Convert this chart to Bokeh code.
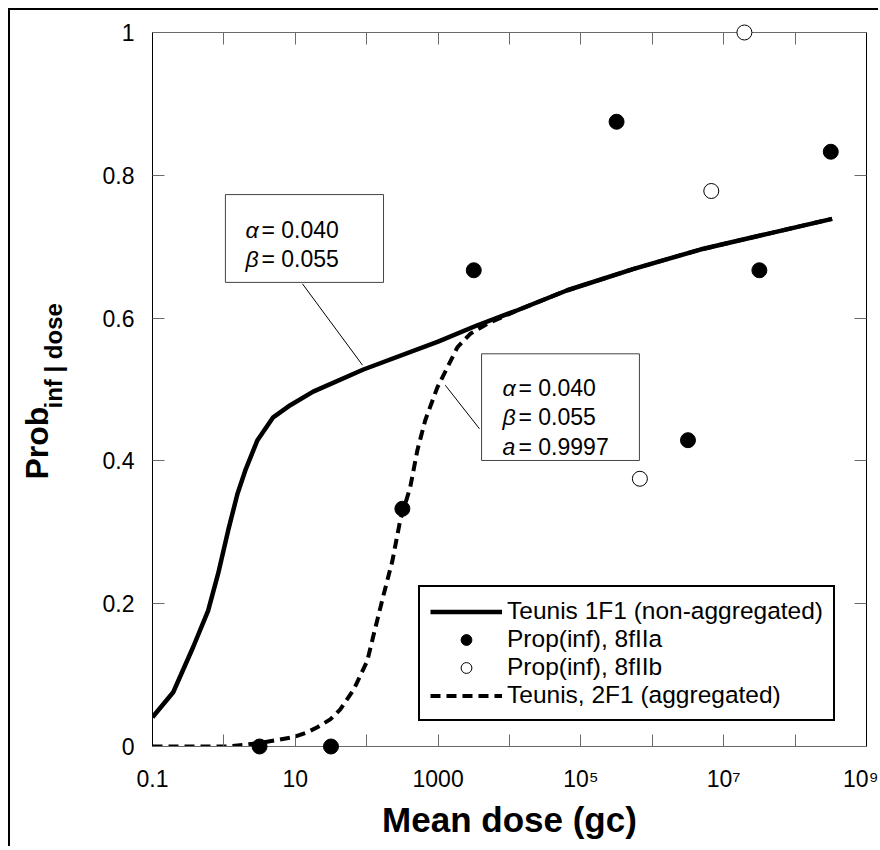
from bokeh.plotting import figure
from bokeh.layouts import row
from bokeh.models import (LogAxis, LinearAxis, FixedTicker, Legend, LegendItem,
                          Label, BoxAnnotation, Range1d)
from bokeh.core.properties import value
from bokeh.embed import file_html
from bokeh.resources import INLINE
import math

FONT = "Liberation Sans"

# ---------------- data ----------------
solid_dose = [0.1, 0.195, 0.37, 0.6, 0.83, 1.15, 1.55, 2.0, 2.95, 4.9, 8.5, 17.8,
              90, 1000, 3550, 12900, 64600, 550000, 4.7e6, 4.1e7, 3.3e8]
solid_prob = [0.041, 0.076, 0.139, 0.19, 0.242, 0.303, 0.354, 0.387, 0.429, 0.461,
              0.478, 0.497, 0.528, 0.567, 0.59, 0.611, 0.639, 0.669, 0.696, 0.718, 0.739]

dashed_dose = [0.1, 1.12, 3.24, 9.3, 14.8, 20.4, 30.9, 42.7, 66, 102, 126, 174, 229,
               295, 407, 513, 661, 977, 1350, 1860, 2820, 4900, 12900, 64600, 550000,
               4.7e6, 4.1e7, 3.3e8]
dashed_prob = [0.0, 0.0, 0.005, 0.013, 0.02, 0.027, 0.038, 0.052, 0.08, 0.12, 0.158,
               0.214, 0.26, 0.317, 0.363, 0.415, 0.457, 0.503, 0.531, 0.559, 0.578,
               0.592, 0.611, 0.639, 0.669, 0.696, 0.718, 0.739]

iia_dose = [3.16, 31.6, 316, 3160, 3.16e5, 3.16e6, 3.16e7, 3.16e8]
iia_prob = [0.0, 0.0, 0.333, 0.667, 0.875, 0.429, 0.667, 0.833]

iib_dose = [6.7e5, 6.7e6, 1.95e7]
iib_prob = [0.375, 0.778, 1.0]

x_ticks = [0.1, 1, 10, 100, 1000, 1e4, 1e5, 1e6, 1e7, 1e8, 1e9]
x_tick_labels = ["0.1", "", "10", "", "1000", "", "10\u2075", "", "10\u2077", "", "10\u2079"]
y_ticks = [0, 0.2, 0.4, 0.6, 0.8, 1]
y_tick_labels = ["0", "0.2", "0.4", "0.6", "0.8", "1"]

legend_labels = ["Teunis 1F1 (non-aggregated)", "Prop(inf), 8fIIa",
                 "Prop(inf), 8fIIb", "Teunis, 2F1 (aggregated)"]

y_title_main = "Prob"
y_title_sub = "inf | dose"

box1_sym = ["\u03b1", "\u03b2"]
box1_val = ["= 0.040", "= 0.055"]
box2_sym = ["\u03b1", "\u03b2", "a"]
box2_val = ["= 0.040", "= 0.055", "= 0.9997"]

# ---------------- layout constants ----------------
TITLE_W = 72          # strip to the left holding the y title
FIG_H = 836
TICK_COL = "#6a6a6a"
TICK_FS = "23px"

# ---------------- main figure ----------------
p = figure(x_axis_type="log", x_range=(0.1, 1e9), y_range=(0, 1),
           frame_width=714, frame_height=714,
           min_border_left=142 - TITLE_W, min_border_right=12,
           min_border_top=22, min_border_bottom=100,
           output_backend="svg", toolbar_location=None,
           background_fill_color="white", border_fill_color="white",
           outline_line_color=None)
p.xgrid.visible = False
p.ygrid.visible = False

xa = p.xaxis[0]
xa.ticker = FixedTicker(ticks=x_ticks)
xa.major_label_overrides = {t: (lab if lab else " ") for t, lab in zip(x_ticks, x_tick_labels)}
xa.minor_tick_line_color = None
xa.major_tick_in = 12
xa.major_tick_out = 0
xa.major_tick_line_color = TICK_COL
xa.axis_line_color = TICK_COL
xa.major_label_standoff = 19
xa.major_label_text_font = FONT
xa.major_label_text_font_size = TICK_FS
xa.major_label_text_color = "black"
xa.axis_label = "Mean dose (gc)"
xa.axis_label_text_font = FONT
xa.axis_label_text_font_size = "35px"
xa.axis_label_text_font_style = "bold"
xa.axis_label_text_color = "black"
xa.axis_label_standoff = 5

ya = p.yaxis[0]
ya.ticker = FixedTicker(ticks=y_ticks)
ya.major_label_overrides = dict(zip(y_ticks, y_tick_labels))
ya.minor_tick_line_color = None
ya.major_tick_in = 12
ya.major_tick_out = 0
ya.major_tick_line_color = TICK_COL
ya.axis_line_color = "black"
ya.major_label_standoff = 18
ya.major_label_text_font = FONT
ya.major_label_text_font_size = TICK_FS
ya.major_label_text_color = "black"

top = LogAxis(ticker=FixedTicker(ticks=x_ticks), major_label_text_font_size="1px",
              major_label_text_alpha=0,
              major_label_standoff=0, major_tick_in=12, major_tick_out=0,
              minor_tick_line_color=None, major_tick_line_color=TICK_COL,
              axis_line_color=TICK_COL)
p.add_layout(top, "above")
right = LinearAxis(ticker=FixedTicker(ticks=y_ticks), major_label_text_font_size="1px",
                   major_label_text_alpha=0,
                   major_label_standoff=0, major_tick_in=12, major_tick_out=0,
                   minor_tick_line_color=None, major_tick_line_color=TICK_COL,
                   axis_line_color="black")
p.add_layout(right, "right")

# ---------------- annotation boxes & leader lines ----------------
p.segment(x0=[12.6, 3800], y0=[0.648, 0.445], x1=[87.5, 1260], y1=[0.534, 0.506],
          line_color="black", line_width=1)

p.add_layout(BoxAnnotation(left=1.05, right=172, top=0.773, bottom=0.650,
                           fill_color="white", fill_alpha=1,
                           line_color="#444444", line_alpha=1, line_width=1))
p.add_layout(BoxAnnotation(left=4060, right=6.6e5, top=0.550, bottom=0.4006,
                           fill_color="white", fill_alpha=1,
                           line_color="#444444", line_alpha=1, line_width=1))

def box_text(x0, ys, syms, vals):
    for y, s, v in zip(ys, syms, vals):
        p.add_layout(Label(x=x0, y=y, text=s, text_font=FONT, text_font_size="23px",
                           text_font_style="italic", text_baseline="alphabetic",
                           text_align="left", text_color="black"))
        p.add_layout(Label(x=x0, y=y, x_offset=16, text=v, text_font=FONT,
                           text_font_size="23px", text_baseline="alphabetic",
                           text_align="left", text_color="black"))

box_text(2.007, [0.7237, 0.683], box1_sym, box1_val)
box_text(7980, [0.5028, 0.4612, 0.4192], box2_sym, box2_val)

# ---------------- data renderers ----------------
r_solid = p.line(solid_dose, solid_prob, line_width=4.5, line_color="black")
r_dash = p.line(dashed_dose, dashed_prob, line_width=4, line_color="black", line_dash="10 6")
r_a = p.scatter(iia_dose, iia_prob, size=15, marker="circle", fill_color="black",
                line_color="black", level="overlay")
r_b = p.scatter(iib_dose, iib_prob, size=15, marker="circle", fill_color="white",
                line_color="black", line_width=1, level="overlay")

legend = Legend(items=[LegendItem(label=legend_labels[0], renderers=[r_solid]),
                       LegendItem(label=legend_labels[1], renderers=[r_a]),
                       LegendItem(label=legend_labels[2], renderers=[r_b]),
                       LegendItem(label=legend_labels[3], renderers=[r_dash])],
                location=(266, 25), glyph_width=72, glyph_height=27, label_height=26,
                spacing=0, padding=10, label_standoff=5, margin=0,
                border_line_color="black", border_line_width=2, border_line_alpha=1,
                label_text_font=FONT, label_text_font_size="24.5px", label_text_color="black",
                background_fill_color="white", background_fill_alpha=1)
p.add_layout(legend)

# ---------------- y title strip (pixel coordinates inside its own frame) ----------------
t = figure(frame_width=TITLE_W, frame_height=FIG_H,
           x_range=Range1d(0, TITLE_W), y_range=Range1d(0, FIG_H),
           x_axis_location=None, y_axis_location=None,
           min_border_left=0, min_border_right=0, min_border_top=0, min_border_bottom=0,
           output_backend="svg", toolbar_location=None,
           background_fill_color="white", border_fill_color="white",
           outline_line_color=None)
t.grid.visible = False
t.text(x=[26], y=[389], text=[y_title_main], angle=math.pi / 2,
       text_font=value(FONT), text_font_size="32px", text_font_style="bold",
       text_align="left", text_baseline="alphabetic", text_color="black")
t.text(x=[43], y=[460], text=[y_title_sub], angle=math.pi / 2,
       text_font=value(FONT), text_font_size="24px", text_font_style="bold",
       text_align="left", text_baseline="alphabetic", text_color="black")

layout = row(t, p)
layout.styles = {"margin-left": "8px", "margin-top": "8px",
                 "border-left": "2px solid black", "border-top": "2px solid black"}

open("out.html", "w").write(file_html(layout, INLINE))
